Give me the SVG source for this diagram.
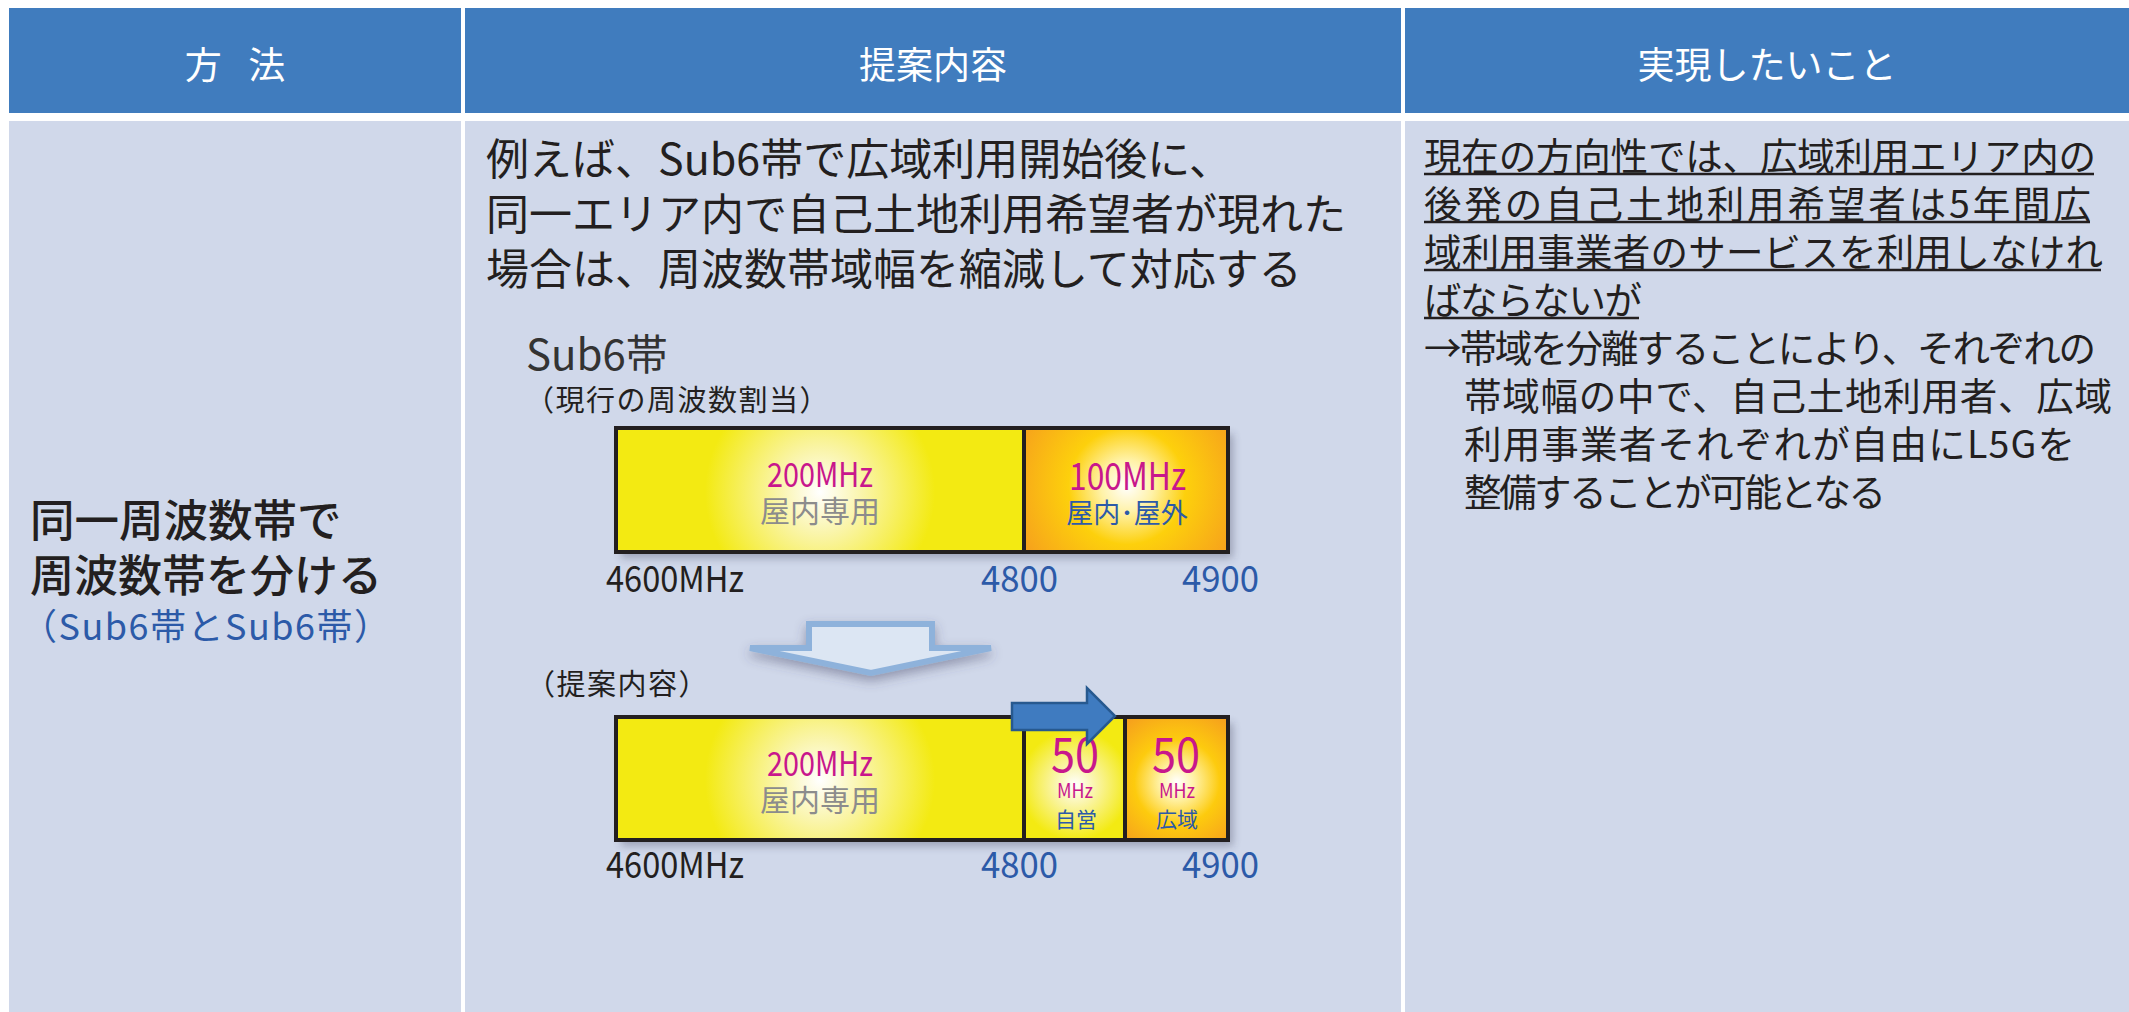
<svg xmlns="http://www.w3.org/2000/svg" width="2129" height="1012" viewBox="0 0 2129 1012">
<style>
text{font-family:'Noto Sans CJK JP','Noto Sans',sans-serif}
.hd{fill:#407CBE}
.bd{fill:#D0D8EA}
.ht{font-size:37px;fill:#FFFFFF;text-anchor:middle}
.c2{font-size:43px;fill:#231F20}
.c3{font-size:37.5px;fill:#231F20}
.ul{stroke:#231F20;stroke-width:2.6}
.mag{fill:#C8178C}
.blu{fill:#2C5AA8}
.gry{fill:#8C8C8C}
.dk{fill:#231F20}
.bar{fill:none;stroke:#231F20;stroke-width:4}
.cap{font-size:29px;fill:#231F20;letter-spacing:1.5px}
.ax{font-size:36px}
</style>
<defs>
<filter id="blur" x="-10%" y="-20%" width="120%" height="140%"><feGaussianBlur stdDeviation="4"/></filter>
<filter id="ash" x="-20%" y="-50%" width="140%" height="200%"><feDropShadow dx="0" dy="5" stdDeviation="6" flood-color="#404060" flood-opacity="0.45"/></filter>
<radialGradient id="gy1" gradientUnits="userSpaceOnUse" cx="820" cy="492" r="115"><stop offset="0" stop-color="#FFFFFF"/><stop offset="0.35" stop-color="#FAF5AE"/><stop offset="1" stop-color="#F3EA12"/></radialGradient>
<radialGradient id="gy2" gradientUnits="userSpaceOnUse" cx="820" cy="780" r="115"><stop offset="0" stop-color="#FFFFFF"/><stop offset="0.35" stop-color="#FAF5AE"/><stop offset="1" stop-color="#F3EA12"/></radialGradient>
<radialGradient id="gy3" gradientUnits="userSpaceOnUse" cx="1075" cy="785" r="55"><stop offset="0" stop-color="#FFFFFF"/><stop offset="0.35" stop-color="#FAF5AE"/><stop offset="1" stop-color="#F3EA12"/></radialGradient>
<radialGradient id="go1" gradientUnits="userSpaceOnUse" cx="1127" cy="486" r="130"><stop offset="0" stop-color="#FFFFFF"/><stop offset="0.2" stop-color="#FFF2A8"/><stop offset="0.45" stop-color="#FDD00C"/><stop offset="1" stop-color="#F5991F"/></radialGradient>
<radialGradient id="go2" gradientUnits="userSpaceOnUse" cx="1177" cy="782" r="85"><stop offset="0" stop-color="#FFFFFF"/><stop offset="0.2" stop-color="#FFF2A8"/><stop offset="0.5" stop-color="#FDCB0E"/><stop offset="1" stop-color="#F5991F"/></radialGradient>
</defs>
<rect x="0" y="0" width="2129" height="1012" fill="#FFFFFF"/>

<g id="header-method"><rect class="hd" x="9" y="8" width="452" height="105"/><text class="ht" x="235" y="79" word-spacing="18">方 法</text></g>
<g id="header-proposal"><rect class="hd" x="465" y="8" width="936" height="105"/><text class="ht" x="933" y="79">提案内容</text></g>
<g id="header-goal"><rect class="hd" x="1405" y="8" width="724" height="105"/><text class="ht" x="1767" y="79">実現したいこと</text></g>

<g id="cell-method">
<rect class="bd" x="9" y="121" width="452" height="891"/>
<text x="30" y="537" font-size="44.5" font-weight="500" class="dk">同一周波数帯で</text>
<text x="30" y="592" font-size="44" font-weight="500" class="dk">周波数帯を分ける</text>
<text x="21" y="640" font-size="36" class="blu" letter-spacing="1.5">（Sub6帯とSub6帯）</text>
</g>

<g id="cell-proposal">
<rect class="bd" x="465" y="121" width="936" height="891"/>
<text class="c2" x="486" y="175">例えば、Sub6帯で広域利用開始後に、</text>
<text class="c2" x="486" y="230">同一エリア内で自己土地利用希望者が現れた</text>
<text class="c2" x="486" y="285">場合は、周波数帯域幅を縮減して対応する</text>
<text x="526" y="370" font-size="42" fill="#333333">Sub6帯</text>
<text class="cap" x="525" y="411">（現行の周波数割当）</text>
<text class="cap" x="526" y="695">（提案内容）</text>
</g>

<g id="cell-goal">
<rect class="bd" x="1405" y="121" width="724" height="891"/>
<text class="c3" x="1424" y="169.5" textLength="672">現在の方向性では、広域利用エリア内の</text>
<text class="c3" x="1424" y="217.5" textLength="667">後発の自己土地利用希望者は5年間広</text>
<text class="c3" x="1424" y="265.5" textLength="679">域利用事業者のサービスを利用しなけれ</text>
<text class="c3" x="1424" y="313.5" textLength="218">ばならないが</text>
<text class="c3" x="1424" y="361.5" textLength="672">→帯域を分離することにより、それぞれの</text>
<text class="c3" x="1464" y="409.5" textLength="648">帯域幅の中で、自己土地利用者、広域</text>
<text class="c3" x="1464" y="457.5" textLength="611">利用事業者それぞれが自由にL5Gを</text>
<text class="c3" x="1464" y="505.5" textLength="422">整備することが可能となる</text>
<line class="ul" x1="1424" y1="174" x2="2094" y2="174"/>
<line class="ul" x1="1424" y1="222" x2="2090" y2="222"/>
<line class="ul" x1="1424" y1="270" x2="2101" y2="270"/>
<line class="ul" x1="1424" y1="318" x2="1639" y2="318"/>
</g>

<g id="band-current">
<rect x="621" y="434" width="612" height="124" fill="#202040" opacity="0.3" filter="url(#blur)"/>
<rect x="616" y="428" width="408" height="124" fill="url(#gy1)"/>
<rect x="1024" y="428" width="204" height="124" fill="url(#go1)"/>
<rect class="bar" x="616" y="428" width="612" height="124"/>
<line class="bar" x1="1024" y1="428" x2="1024" y2="552"/>
<text class="mag" x="767" y="487" font-size="34" textLength="106" lengthAdjust="spacingAndGlyphs">200MHz</text>
<text class="gry" x="820" y="522" font-size="30" text-anchor="middle">屋内専用</text>
<text class="mag" x="1069" y="490" font-size="38" textLength="117" lengthAdjust="spacingAndGlyphs">100MHz</text>
<text class="blu" x="1127" y="523" font-size="27" text-anchor="middle">屋内･屋外</text>
<text class="dk ax" x="606" y="592" textLength="138" lengthAdjust="spacingAndGlyphs">4600MHz</text>
<text class="blu ax" x="981" y="592" textLength="77" lengthAdjust="spacingAndGlyphs">4800</text>
<text class="blu ax" x="1182" y="592" textLength="77" lengthAdjust="spacingAndGlyphs">4900</text>
</g>

<g id="band-proposed">
<rect x="621" y="723" width="612" height="123" fill="#202040" opacity="0.3" filter="url(#blur)"/>
<rect x="616" y="717" width="408" height="123" fill="url(#gy2)"/>
<rect x="1024" y="717" width="101" height="123" fill="url(#gy3)"/>
<rect x="1125" y="717" width="103" height="123" fill="url(#go2)"/>
<rect class="bar" x="616" y="717" width="612" height="123"/>
<line class="bar" x1="1024" y1="717" x2="1024" y2="840"/>
<line class="bar" x1="1125" y1="717" x2="1125" y2="840"/>
<text class="mag" x="767" y="776" font-size="34" textLength="106" lengthAdjust="spacingAndGlyphs">200MHz</text>
<text class="gry" x="820" y="811" font-size="30" text-anchor="middle">屋内専用</text>
<text class="mag" x="1051" y="772" font-size="47" textLength="48" lengthAdjust="spacingAndGlyphs">50</text>
<text class="mag" x="1057" y="798" font-size="20" textLength="36" lengthAdjust="spacingAndGlyphs">MHz</text>
<text class="blu" x="1076" y="827" font-size="21" text-anchor="middle">自営</text>
<text class="mag" x="1152" y="772" font-size="47" textLength="48" lengthAdjust="spacingAndGlyphs">50</text>
<text class="mag" x="1159" y="798" font-size="20" textLength="36" lengthAdjust="spacingAndGlyphs">MHz</text>
<text class="blu" x="1177" y="827" font-size="21" text-anchor="middle">広域</text>
<text class="dk ax" x="606" y="878" textLength="138" lengthAdjust="spacingAndGlyphs">4600MHz</text>
<text class="blu ax" x="981" y="878" textLength="77" lengthAdjust="spacingAndGlyphs">4800</text>
<text class="blu ax" x="1182" y="878" textLength="77" lengthAdjust="spacingAndGlyphs">4900</text>
</g>

<g id="connectors">
<path d="M809,624 L932,624 L932,648 L991,648 L871,673 L750,648 L809,648 Z" fill="#DCE6F3" stroke="#8EB2DB" stroke-width="6" stroke-linejoin="miter" filter="url(#ash)"/>
<path d="M1012,703 L1087,703 L1087,688 L1115,716 L1087,744 L1087,730 L1012,730 Z" fill="#3F7BC0" stroke="#27598F" stroke-width="2.5"/>
</g>
</svg>
